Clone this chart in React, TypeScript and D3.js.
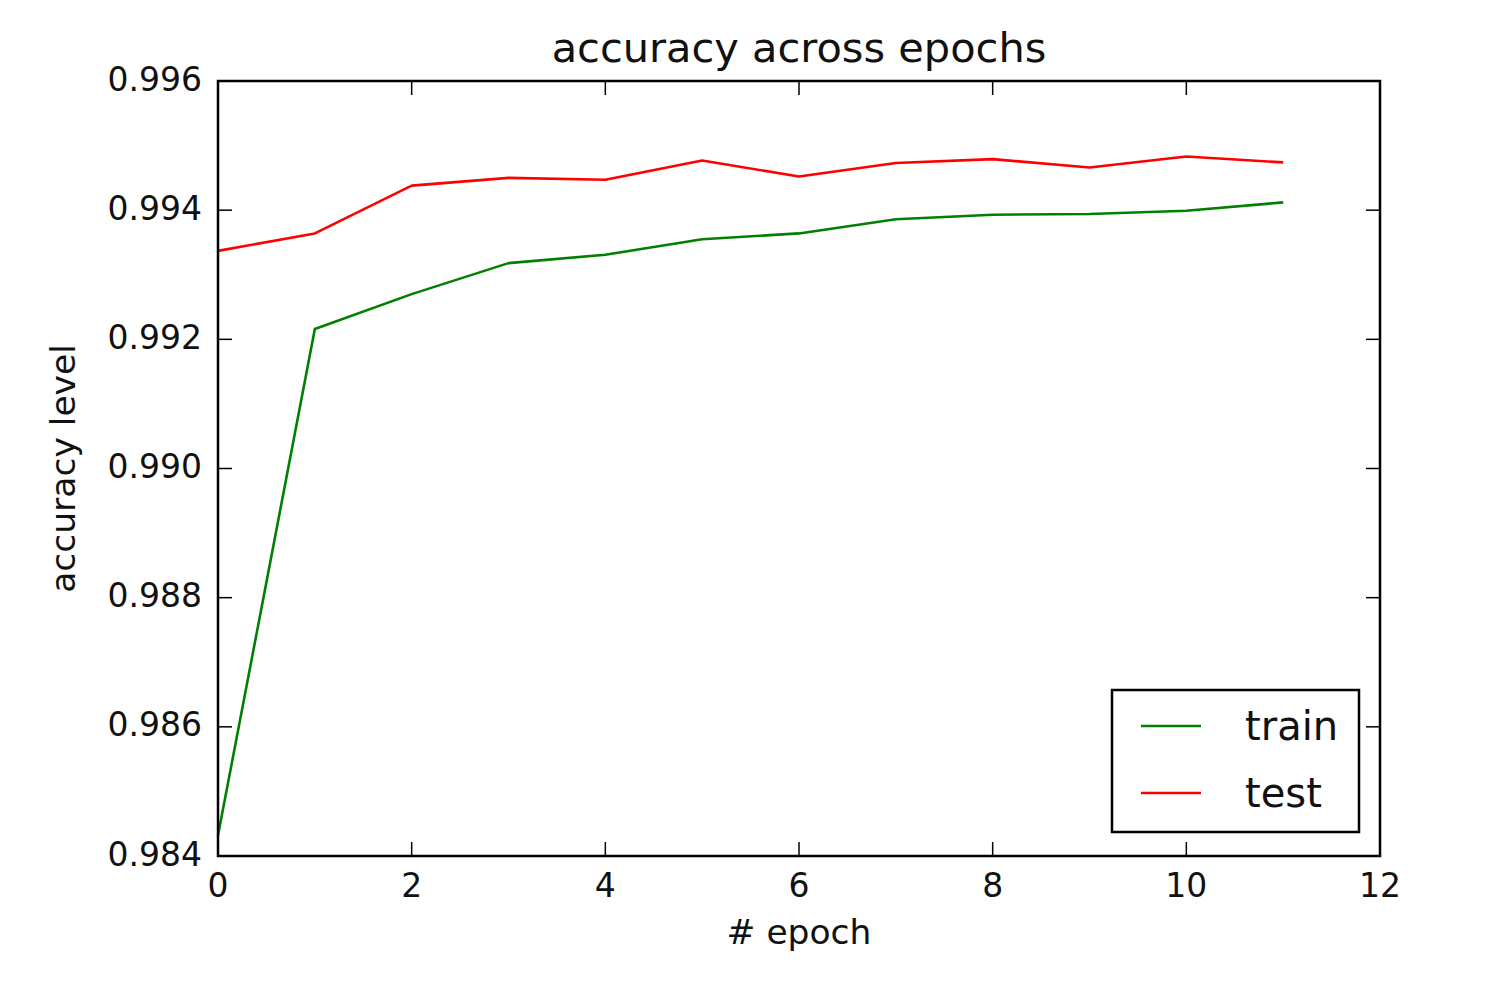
import React from "react";
import * as d3 from "d3";

const epochs = [0, 1, 2, 3, 4, 5, 6, 7, 8, 9, 10, 11];
const trainAcc = [0.98432, 0.99216, 0.9927, 0.99318, 0.99331, 0.99355, 0.99364, 0.99386, 0.99393, 0.99394, 0.99399, 0.99412];
const testAcc = [0.99337, 0.99364, 0.99438, 0.9945, 0.99447, 0.99477, 0.99452, 0.99473, 0.99479, 0.99466, 0.99483, 0.99474];
const xTicks = [0, 2, 4, 6, 8, 10, 12];
const yTicks = [0.984, 0.986, 0.988, 0.99, 0.992, 0.994, 0.996];
const seriesNames = ["train", "test"];
const seriesColors = ["#008000", "#ff0000"];

const W = 1502, H = 993;
const L = 218, R = 1380, T = 81, B = 856;
const FONT = "'DejaVu Sans', sans-serif";

export default function App() {
  const x = d3.scaleLinear().domain([0, 12]).range([L, R]);
  const y = d3.scaleLinear().domain([0.984, 0.996]).range([B, T]);
  const line = d3.line<number>().x((_, i) => x(epochs[i])).y((d) => y(d));
  const series = [trainAcc, testAcc];
  const tl = 14;
  return (
    <svg width={W} height={H} style={{ position: "absolute", left: 0, top: 0 }} fontFamily={FONT}>
      <rect x={0} y={0} width={W} height={H} fill="#fff" />
      {series.map((s, i) => (
        <path key={i} d={line(s) || ""} fill="none" stroke={seriesColors[i]} strokeWidth={2.6} strokeLinejoin="round" />
      ))}
      {xTicks.map((t) => (
        <g key={"x" + t}>
          <line x1={x(t)} x2={x(t)} y1={B} y2={B - tl} stroke="#000" strokeWidth={1.5} />
          <line x1={x(t)} x2={x(t)} y1={T} y2={T + tl} stroke="#000" strokeWidth={1.5} />
          <text x={x(t)} y={897} textAnchor="middle" fontSize={33} fill="#111">{t}</text>
        </g>
      ))}
      {yTicks.map((t) => (
        <g key={"y" + t}>
          <line x1={L} x2={L + tl} y1={y(t)} y2={y(t)} stroke="#000" strokeWidth={1.5} />
          <line x1={R} x2={R - tl} y1={y(t)} y2={y(t)} stroke="#000" strokeWidth={1.5} />
          <text x={202} y={y(t) - 2} dy="0.35em" textAnchor="end" fontSize={33} fill="#111">{t.toFixed(3)}</text>
        </g>
      ))}
      <rect x={L} y={T} width={R - L} height={B - T} fill="none" stroke="#000" strokeWidth={2.5} />
      <text x={(L + R) / 2} y={62} textAnchor="middle" fontSize={41.5} fill="#111">accuracy across epochs</text>
      <text x={(L + R) / 2} y={944} textAnchor="middle" fontSize={34.5} fill="#111"># epoch</text>
      <text transform={`translate(75,${(T + B) / 2}) rotate(-90)`} textAnchor="middle" fontSize={34.5} fill="#111">accuracy level</text>
      <g>
        <rect x={1112} y={690} width={247} height={142} fill="#fff" stroke="#000" strokeWidth={2.5} />
        {seriesNames.map((n, i) => (
          <g key={n}>
            <line x1={1141} x2={1201} y1={726 + i * 67} y2={726 + i * 67} stroke={seriesColors[i]} strokeWidth={2.6} />
            <text x={1245} y={726 + i * 67} dy="0.35em" fontSize={40} fill="#111">{n}</text>
          </g>
        ))}
      </g>
    </svg>
  );
}
